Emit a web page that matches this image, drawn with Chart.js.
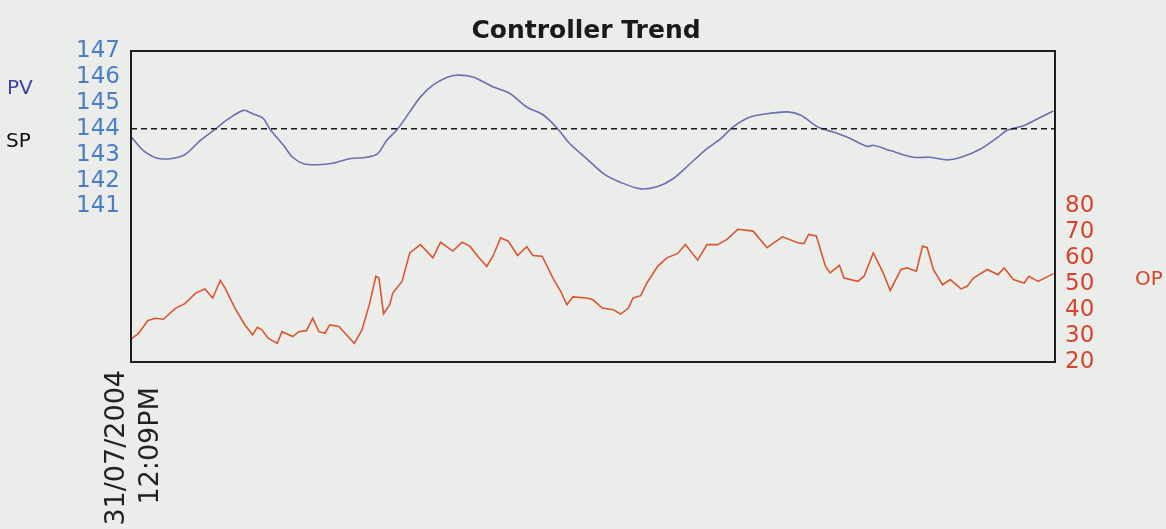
<!DOCTYPE html>
<html>
<head>
<meta charset="utf-8">
<script src="https://cdn.jsdelivr.net/npm/chart.js@4/dist/chart.umd.min.js"></script>
<style>
  html, body { margin: 0; padding: 0; background: #ebedeb; }
  #wrap { width: 1166px; height: 529px; }
</style>
</head>
<body>
<div id="wrap"><canvas id="c" width="1166" height="529"></canvas></div>
<script>
// ---- data (time in seconds from 31/07/2004 12:09PM) ----
const pvTime  = [0, 8, 19, 34, 45, 56, 62, 73, 79, 86, 90, 99, 105, 112, 121, 131, 142, 153, 160, 166, 173, 181, 188, 196, 205, 212, 222, 235, 246, 257, 268, 277, 285, 296, 307, 318, 331, 342, 352, 363, 374, 383, 391, 402, 413, 426, 435, 446, 456, 467, 478, 482, 493, 508, 519, 530, 539, 552, 563, 569, 580, 591, 599];
const pvValue = [143.7, 143.16, 142.84, 142.97, 143.55, 144.04, 144.33, 144.71, 144.58, 144.39, 144.0, 143.36, 142.9, 142.65, 142.61, 142.67, 142.84, 142.9, 143.03, 143.55, 143.98, 144.65, 145.23, 145.68, 145.98, 146.07, 146.0, 145.62, 145.36, 144.84, 144.52, 144.0, 143.42, 142.84, 142.26, 141.93, 141.68, 141.77, 142.07, 142.65, 143.23, 143.62, 144.07, 144.45, 144.58, 144.65, 144.52, 144.07, 143.87, 143.62, 143.32, 143.36, 143.16, 142.9, 142.9, 142.8, 142.9, 143.23, 143.68, 143.94, 144.13, 144.45, 144.69];

const opTime  = [0, 5, 11, 16, 21, 29, 35, 42, 48, 53, 58, 61, 68, 74, 79, 82, 85, 89, 95, 98, 105, 109, 114, 118, 122, 126, 129, 135, 139, 145, 150, 155, 159, 161, 164, 168, 170, 176, 181, 188, 196, 201, 209, 215, 220, 226, 231, 235, 240, 245, 251, 257, 261, 267, 274, 279, 283, 287, 296, 300, 306, 313, 318, 323, 326, 331, 335, 342, 348, 355, 360, 368, 374, 381, 387, 394, 404, 413, 423, 433, 437, 440, 445, 451, 454, 460, 463, 472, 476, 482, 488, 493, 500, 504, 510, 514, 517, 521, 527, 532, 539, 543, 547, 556, 563, 567, 573, 580, 583, 589, 599];
const opValue = [28.8, 31.1, 36.0, 36.9, 36.5, 40.8, 42.5, 46.6, 48.2, 44.7, 51.5, 48.6, 40.2, 34.3, 30.5, 33.4, 32.4, 29.2, 27.2, 31.7, 29.8, 31.7, 32.1, 36.9, 31.7, 31.1, 34.3, 33.7, 31.1, 27.2, 32.4, 42.7, 53.1, 52.4, 38.6, 42.1, 46.6, 51.1, 62.1, 65.3, 60.2, 66.2, 62.8, 66.2, 64.7, 60.2, 56.9, 60.8, 67.9, 66.6, 61.1, 64.5, 61.1, 60.8, 52.4, 47.3, 42.1, 45.1, 44.7, 44.0, 40.8, 40.2, 38.5, 40.8, 44.7, 45.6, 50.5, 56.9, 60.2, 61.9, 65.3, 59.3, 65.3, 65.3, 67.3, 71.2, 70.5, 64.1, 68.3, 66.0, 65.7, 69.2, 68.6, 56.9, 54.4, 57.3, 52.4, 51.1, 53.1, 62.1, 55.0, 47.6, 55.7, 56.3, 55.0, 64.7, 64.1, 55.7, 49.8, 51.8, 48.2, 49.2, 52.4, 55.7, 53.7, 56.3, 51.8, 50.5, 53.1, 51.1, 54.1];

const spTime  = [0, 600];
const spValue = [144, 144];

const pvTicks = [141, 142, 143, 144, 145, 146, 147];
const opTicks = [20, 30, 40, 50, 60, 70, 80];
const xTickLabel = ['31/07/2004', '12:09PM  '];

const toXY = (t, v) => t.map((x, i) => ({ x: x, y: v[i] }));

// ---- extra text + frame ----
const decor = {
  id: 'decor',
  afterDatasetsDraw(chart) {
    const { ctx, chartArea: a } = chart;
    ctx.save();
    ctx.strokeStyle = '#1e1e1e';
    ctx.lineWidth = 2;
    ctx.strokeRect(a.left, a.top, a.right - a.left, a.bottom - a.top);
    ctx.restore();
  },
  afterDraw(chart) {
    const ctx = chart.ctx;
    ctx.save();
    ctx.textBaseline = 'alphabetic';
    ctx.textAlign = 'center';
    ctx.fillStyle = '#1a1a1a';
    ctx.font = 'bold 25px "DejaVu Sans"';
    ctx.fillText('Controller Trend', 586, 38);
    ctx.textAlign = 'left';
    ctx.textBaseline = 'middle';
    ctx.font = '20px "DejaVu Sans"';
    ctx.fillStyle = '#3d44a0';
    ctx.fillText('PV', 7, 89);
    ctx.fillStyle = '#111111';
    ctx.fillText('SP', 6, 142);
    ctx.fillStyle = '#d8432b';
    ctx.fillText('OP', 1135, 280);
    ctx.restore();
  }
};

new Chart(document.getElementById('c'), {
  type: 'line',
  data: {
    datasets: [
      { label: 'SP', data: toXY(spTime, spValue), yAxisID: 'y', borderColor: '#1a1a1a', borderWidth: 1.6, borderDash: [6, 4], pointRadius: 0, tension: 0 },
      { label: 'PV', data: toXY(pvTime, pvValue), yAxisID: 'y', borderColor: '#6a6fb2', borderWidth: 1.6, pointRadius: 0, tension: 0.3 },
      { label: 'OP', data: toXY(opTime, opValue), yAxisID: 'y1', borderColor: '#d9562f', borderWidth: 1.6, pointRadius: 0, tension: 0 }
    ]
  },
  options: {
    responsive: false,
    devicePixelRatio: 1,
    animation: false,
    layout: { padding: { top: 51, left: 0, right: 0, bottom: 0 } },
    plugins: { legend: { display: false }, tooltip: { enabled: false }, title: { display: false } },
    scales: {
      x: {
        type: 'linear', min: 0, max: 600,
        grid: { display: false, drawTicks: false },
        border: { display: false },
        afterBuildTicks: s => { s.ticks = [{ value: 0 }]; },
        afterFit: s => { s.height = 167; },
        ticks: {
          autoSkip: false, minRotation: 90, maxRotation: 90, padding: 8, labelOffset: -14,
          color: '#222222', font: { family: 'DejaVu Sans', size: 27, lineHeight: 1.26 },
          callback: () => xTickLabel
        }
      },
      y: {
        position: 'left', min: 135, max: 147,
        grid: { display: false, drawTicks: false },
        border: { display: false },
        afterBuildTicks: s => { s.ticks = pvTicks.map(v => ({ value: v })); },
        afterFit: s => { s.width = 131; },
        ticks: { padding: 11, color: '#4b7ec6', font: { family: 'DejaVu Sans', size: 23 } }
      },
      y1: {
        position: 'right', min: 20, max: 140,
        grid: { display: false, drawTicks: false },
        border: { display: false },
        afterBuildTicks: s => { s.ticks = opTicks.map(v => ({ value: v })); },
        afterFit: s => { s.width = 111; },
        ticks: { padding: 10, color: '#d8432b', font: { family: 'DejaVu Sans', size: 23 } }
      }
    }
  },
  plugins: [decor]
});
</script>
</body>
</html>
